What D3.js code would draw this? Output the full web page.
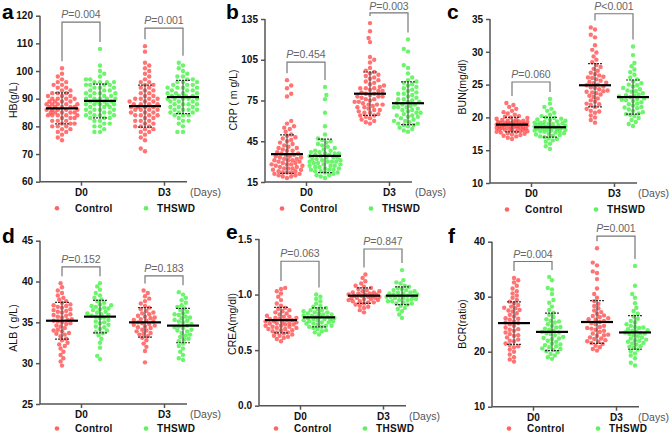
<!DOCTYPE html>
<html>
<head>
<meta charset="utf-8">
<script src="https://cdn.jsdelivr.net/npm/d3@7"></script>
<style>
body { margin: 0; background: #fff; }
text { font-family: "Liberation Sans", Arial, sans-serif; }
</style>
</head>
<body>
<div id="chart"></div>
<script>
var width = 669
var height = 437

var days = ["D0", "D3"]
var groups = ["Control", "THSWD"]

// HB (g/L)
var hbCtrlD0 = [75,76,77,78,78,79,79,80,80,80,81,81,81,82,82,82,83,83,83,84,84,84,84,85,85,85,85,86,86,86,86,86,87,87,87,87,87,88,88,88,88,89,89,89,89,90,90,90,90,91,91,91,92,92,92,93,93,94,94,95,95,96,96,97,98,99,101,85,84,88]
var hbThD0 = [78,78,79,80,80,81,81,82,82,83,83,83,84,84,84,85,85,85,86,86,86,87,87,87,88,88,88,88,89,89,89,89,90,90,90,90,91,91,91,92,92,92,93,93,93,94,94,94,95,95,95,96,96,96,96,97,97,98,99,100,102,108,86,90,92,84,88,95]
var hbCtrlD3 = [71,72,75,76,77,78,78,79,79,80,80,81,81,82,82,83,83,84,84,84,85,85,85,86,86,86,87,87,87,87,88,88,88,89,89,89,90,90,90,91,91,92,92,93,93,94,94,95,95,96,96,97,98,99,100,101,102,103,107,109,84,86,88,90,82,80]
var hbThD3 = [78,78,80,81,82,82,83,84,84,85,85,85,86,86,86,87,87,87,88,88,88,89,89,89,90,90,90,90,91,91,91,91,92,92,92,93,93,93,94,94,94,95,95,95,96,96,96,97,97,98,98,99,100,101,102,103,88,90,92,86,94,84]
var hbMean = [86.5, 89.2, 87.3, 90.6]
var hbSd = [5.6, 6.1, 7.6, 6.0]
var hbTicks = [60, 70, 80, 90, 100, 110, 120]
var hbP = ["=0.004", "=0.001"]
var hbBracket = [117.7, 115.5]

// CRP (mg/L)
var crpCtrlD0 = [18,19,19,20,20,21,21,22,22,23,23,24,24,25,25,26,26,27,27,28,28,29,29,30,30,31,31,32,32,33,33,34,35,35,36,36,37,38,38,39,40,40,41,42,43,44,45,46,47,48,49,50,52,54,55,56,58,60,78,80,84,86,90,22,25,28,31,34]
var crpThD0 = [18,19,20,20,21,22,22,23,23,24,24,25,25,26,26,27,27,28,28,29,29,30,30,30,31,31,32,32,33,33,34,34,35,35,36,36,37,37,38,38,39,40,41,42,43,44,45,46,47,50,56,66,76,79,85,24,27,30,33,36]
var crpCtrlD3 = [58,59,60,61,62,63,64,64,65,66,67,68,68,69,70,70,71,72,72,73,74,74,75,76,76,77,78,78,79,80,80,81,82,82,83,84,84,85,86,87,88,89,90,91,92,93,94,95,96,97,99,103,105,107,118,121,126,132,66,72,78,84]
var crpThD3 = [52,53,54,55,56,57,57,58,59,60,60,61,62,63,63,64,65,66,66,67,68,68,69,70,70,71,72,72,73,74,74,75,76,77,78,79,80,80,81,82,83,84,85,86,87,88,89,90,92,95,99,101,111,113,120,58,64,70,76]
var crpMean = [35.5, 34.2, 80, 73]
var crpSd = [14.2, 12.3, 16, 15.7]
var crpTicks = [15, 45, 75, 105, 135]
var crpP = ["=0.454", "=0.003"]
var crpBracket = [103.3, 139.5]

// BUN (mg/dl)
var bunCtrlD0 = [16.7,16.9,17.1,17.2,17.3,17.4,17.5,17.6,17.7,17.8,17.9,17.9,18.0,18.1,18.1,18.2,18.3,18.3,18.4,18.5,18.5,18.6,18.6,18.7,18.7,18.8,18.8,18.9,18.9,19.0,19.0,19.1,19.1,19.2,19.2,19.3,19.3,19.4,19.5,19.5,19.6,19.7,19.8,19.9,20.0,20.1,20.2,20.4,20.6,20.8,21.0,21.3,21.6,21.9,22.2,18.2,18.6,19.0,19.4,18.4,17.8,18.9]
var bunThD0 = [15.2,15.6,16.0,16.3,16.5,16.7,16.8,17.0,17.1,17.3,17.4,17.5,17.6,17.7,17.8,17.9,18.0,18.0,18.1,18.2,18.3,18.3,18.4,18.5,18.5,18.6,18.6,18.7,18.8,18.8,18.9,19.0,19.0,19.1,19.2,19.3,19.4,19.5,19.6,19.7,19.8,19.9,20.0,20.2,20.4,20.7,21.0,21.3,21.6,22.1,22.8,17.2,18.1,18.6,19.2,17.9]
var bunCtrlD3 = [19.2,19.6,20.0,20.3,20.7,21.0,21.3,21.6,21.9,22.1,22.4,22.6,22.9,23.1,23.3,23.5,23.7,23.9,24.1,24.3,24.5,24.7,24.9,25.0,25.2,25.4,25.6,25.8,26.0,26.2,26.4,26.6,26.8,27.1,27.4,27.7,28.0,28.4,28.8,29.3,29.9,30.3,31.0,32.2,32.6,33.4,33.7,22.0,23.8,24.6,25.3,26.1,24.0,20.9]
var bunThD3 = [18.7,19.0,19.3,19.6,19.9,20.2,20.4,20.6,20.8,21.0,21.2,21.4,21.6,21.8,22.0,22.1,22.3,22.5,22.6,22.8,22.9,23.1,23.2,23.4,23.5,23.7,23.9,24.1,24.3,24.5,24.7,24.9,25.2,25.5,25.8,26.1,26.5,26.9,27.3,27.8,28.3,29.5,30.8,21.5,22.7,23.3,24.0,20.5,25.0]
var bunMean = [18.9, 18.5, 24.9, 23.1]
var bunSd = [1.1, 1.5, 3.3, 2.6]
var bunTicks = [10, 15, 20, 25, 30, 35]
var bunP = ["=0.060", "<0.001"]
var bunBracket = [25.4, 35.8]

// ALB (g/L)
var albCtrlD0 = [29.7,30.2,30.6,31.0,31.4,31.8,32.1,32.5,32.8,33.0,33.3,33.5,33.7,33.9,34.1,34.3,34.5,34.6,34.8,35.0,35.1,35.3,35.4,35.6,35.7,35.9,36.0,36.2,36.3,36.5,36.6,36.8,36.9,37.0,37.2,37.4,37.6,37.8,38.0,38.3,38.6,38.9,39.3,39.8,34.0,35.2,36.4,33.6,35.8,37.1,32.3,34.9]
var albThD0 = [30.5,30.9,31.9,32.5,33.0,33.4,33.7,34.0,34.2,34.5,34.7,34.9,35.1,35.3,35.5,35.6,35.8,35.9,36.1,36.2,36.3,36.5,36.6,36.7,36.9,37.0,37.2,37.4,37.6,37.8,38.0,38.3,38.6,39.0,39.4,39.8,35.0,36.0,36.8,34.4,35.7,37.1,33.8]
var albCtrlD3 = [30.1,31.5,32.0,32.4,32.8,33.1,33.3,33.5,33.7,33.9,34.1,34.3,34.4,34.6,34.7,34.9,35.0,35.1,35.3,35.4,35.5,35.7,35.8,36.0,36.2,36.4,36.6,36.8,37.0,37.3,37.6,37.9,38.2,38.6,38.9,34.5,35.2,34.0,35.6,36.1,33.6,34.8]
var albThD3 = [30.4,30.6,31.0,31.4,31.8,32.1,32.4,32.7,33.0,33.2,33.5,33.7,33.9,34.1,34.3,34.5,34.6,34.8,35.0,35.1,35.3,35.5,35.7,35.9,36.1,36.3,36.5,36.7,36.9,37.1,37.4,37.7,38.0,38.4,38.7,34.0,35.2,33.4,36.0,32.9,34.4,35.6]
var albMean = [35.2, 35.7, 35.0, 34.6]
var albSd = [2.25, 2.0, 1.8, 2.1]
var albTicks = [25, 30, 35, 40, 45]
var albP = ["=0.152", "=0.183"]
var albBracket = [41.8, 40.7]

// CREA (mg/dl)
var creaCtrlD0 = [0.58,0.60,0.61,0.62,0.63,0.64,0.65,0.66,0.67,0.68,0.68,0.69,0.70,0.70,0.71,0.72,0.72,0.73,0.73,0.74,0.74,0.75,0.75,0.76,0.76,0.77,0.77,0.78,0.78,0.79,0.80,0.80,0.81,0.82,0.83,0.84,0.85,0.86,0.87,0.88,0.90,0.92,0.95,0.98,1.01,1.03,1.05,1.06,0.66,0.71,0.74,0.79,0.69,0.63]
var creaThD0 = [0.64,0.66,0.67,0.68,0.69,0.70,0.71,0.72,0.72,0.73,0.74,0.74,0.75,0.76,0.76,0.77,0.77,0.78,0.78,0.79,0.79,0.80,0.80,0.81,0.81,0.82,0.82,0.83,0.84,0.84,0.85,0.86,0.87,0.88,0.89,0.90,0.92,0.94,0.96,0.98,1.00,0.75,0.78,0.80,0.83,0.71,0.86]
var creaCtrlD3 = [0.84,0.86,0.88,0.89,0.90,0.91,0.92,0.93,0.94,0.94,0.95,0.96,0.96,0.97,0.97,0.98,0.98,0.99,0.99,1.00,1.00,1.01,1.01,1.02,1.02,1.03,1.04,1.05,1.06,1.07,1.08,1.10,1.12,1.15,1.18,0.95,0.99,1.00,0.97,1.03,0.93]
var creaThD3 = [0.79,0.82,0.85,0.87,0.88,0.90,0.91,0.92,0.93,0.94,0.95,0.95,0.96,0.97,0.97,0.98,0.98,0.99,0.99,1.00,1.00,1.01,1.02,1.02,1.03,1.04,1.05,1.06,1.07,1.08,1.10,1.11,1.13,1.22,0.96,0.99,1.01,0.94,1.04,0.92]
var creaMean = [0.77, 0.795, 0.99, 0.99]
var creaSd = [0.115, 0.085, 0.07, 0.08]
var creaTicks = [0.0, 0.5, 1.0, 1.5]
var creaP = ["=0.063", "=0.847"]
var creaBracket = [1.30, 1.41]

// BCR (ratio)
var bcrCtrlD0 = [18.2,18.6,19.0,19.5,20.0,20.4,20.8,21.2,21.5,21.9,22.2,22.6,22.9,23.2,23.5,23.8,24.1,24.4,24.7,25.0,25.2,25.5,25.8,26.1,26.4,26.7,27.0,27.3,27.6,27.9,28.2,28.5,28.8,29.1,29.4,29.8,30.2,30.6,31.0,31.5,32.0,32.6,33.0,33.4,22.0,24.0,25.3,26.0,27.5,23.0,21.0,28.0]
var bcrThD0 = [18.7,19.0,19.3,19.6,19.9,20.1,20.3,20.6,20.8,21.0,21.3,21.5,21.8,22.0,22.3,22.5,22.7,23.0,23.2,23.4,23.6,23.8,24.0,24.2,24.5,24.7,25.0,25.3,25.6,25.9,26.3,26.7,27.1,27.6,28.2,28.9,29.4,30.5,31.3,31.6,33.0,33.6,21.2,22.4,23.5,24.4,20.5,25.5]
var bcrCtrlD3 = [20.2,20.5,20.8,21.1,21.4,21.6,21.9,22.1,22.4,22.6,22.9,23.1,23.3,23.6,23.8,24.0,24.3,24.5,24.7,25.0,25.2,25.4,25.6,25.9,26.1,26.3,26.6,26.9,27.2,27.5,27.9,28.3,28.7,29.2,29.8,30.5,31.5,33.2,34.3,34.6,35.7,36.2,38.8,21.8,23.0,24.2,25.8,26.5,22.3]
var bcrThD3 = [17.5,18.0,18.8,19.3,19.7,20.1,20.4,20.7,21.0,21.3,21.5,21.8,22.0,22.2,22.4,22.6,22.8,23.0,23.2,23.4,23.5,23.7,23.9,24.1,24.3,24.5,24.7,25.0,25.3,25.6,26.0,26.4,26.9,27.4,28.0,28.8,29.8,30.5,32.0,35.6,22.1,23.3,23.8,24.4,21.6,20.9]
var bcrMean = [25.2, 23.6, 25.4, 23.5]
var bcrSd = [3.85, 3.4, 3.9, 3.05]
var bcrTicks = [10, 20, 30, 40]
var bcrP = ["=0.004", "=0.001"]
var bcrBracket = [36.4, 41]

var colors = ["#ff3d3d", "#33f033"]

// Panel setup (layout only)

var panels = [
    {letter: "a", lx: 2, ly: 19, title: "HB(g/L)", tx: 13, ty: 100, x0: 40, top: 15.7, bottom: 181.7,
     vals: [hbCtrlD0, hbThD0, hbCtrlD3, hbThD3], mean: hbMean, sd: hbSd, ticks: hbTicks, p: hbP, bracket: hbBracket, fmt: d3.format("d")},
    {letter: "b", lx: 226, ly: 19, title: "CRP ( m g/L)", tx: 233, ty: 100, x0: 265, top: 19, bottom: 182,
     vals: [crpCtrlD0, crpThD0, crpCtrlD3, crpThD3], mean: crpMean, sd: crpSd, ticks: crpTicks, p: crpP, bracket: crpBracket, fmt: d3.format("d")},
    {letter: "c", lx: 447, ly: 19, title: "BUN(mg/dl)", tx: 462, ty: 87, x0: 490, top: 19, bottom: 183,
     vals: [bunCtrlD0, bunThD0, bunCtrlD3, bunThD3], mean: bunMean, sd: bunSd, ticks: bunTicks, p: bunP, bracket: bunBracket, fmt: d3.format("d")},
    {letter: "d", lx: 2, ly: 243, title: "ALB ( g/L)", tx: 13, ty: 328, x0: 40, top: 240.7, bottom: 404,
     vals: [albCtrlD0, albThD0, albCtrlD3, albThD3], mean: albMean, sd: albSd, ticks: albTicks, p: albP, bracket: albBracket, fmt: d3.format("d")},
    {letter: "e", lx: 226, ly: 239, title: "CREA(mg/dl)", tx: 232, ty: 324, x0: 259, top: 239, bottom: 405.7,
     vals: [creaCtrlD0, creaThD0, creaCtrlD3, creaThD3], mean: creaMean, sd: creaSd, ticks: creaTicks, p: creaP, bracket: creaBracket, fmt: d3.format(".1f")},
    {letter: "f", lx: 448, ly: 243, title: "BCR(ratio)", tx: 462, ty: 324, x0: 492, top: 241.7, bottom: 406.7,
     vals: [bcrCtrlD0, bcrThD0, bcrCtrlD3, bcrThD3], mean: bcrMean, sd: bcrSd, ticks: bcrTicks, p: bcrP, bracket: bcrBracket, fmt: d3.format("d")}
]

var svg = d3.select("#chart")
    .append("svg")
    .attr("width", width)
    .attr("height", height)
    .style("background-color", "white")

// simple beeswarm: place each dot at the nearest free horizontal offset
function swarm(values, y_scale, cx) {
    var minDist = 4.2, step = 1.4, maxOff = 16
    var pts = values.map(function(v) { return {v: v, y: y_scale(v)} })
    pts.sort(function(a, b) { return b.y - a.y })
    var placed = []
    pts.forEach(function(p, i) {
        var best = 0, bestGap = -1
        for (var k = 0; k * step <= maxOff * 2; k++) {
            var sign = (k + i) % 2 ? 1 : -1
            var off = sign * Math.ceil(k / 2) * step
            if (Math.abs(off) > maxOff) continue
            var gap = Infinity
            placed.forEach(function(q) {
                var dy = q.y - p.y
                if (Math.abs(dy) < minDist) {
                    var dd = Math.sqrt(dy * dy + (q.off - off) * (q.off - off))
                    if (dd < gap) gap = dd
                }
            })
            if (gap >= minDist) { best = off; bestGap = gap; break }
            if (gap > bestGap) { bestGap = gap; best = off }
        }
        p.off = best
        p.x = cx + best
        placed.push(p)
    })
    return pts
}

panels.forEach(function(pn) {
    var g = svg.append("g")

    var y_scale = d3.scaleLinear()
        .domain(d3.extent(pn.ticks))
        .range([pn.bottom, pn.top])

    var x_scale = d3.scalePoint()
        .domain(days)
        .range([pn.x0 + 41, pn.x0 + 124])

    var xEnd = pn.x0 + 147

    // points
    pn.vals.forEach(function(vals, gi) {
        var day = days[Math.floor(gi / 2)]
        var cx = x_scale(day) + (gi % 2 ? 19 : -19)
        var pts = swarm(vals, y_scale, cx)
        g.append("g")
            .selectAll("circle")
            .data(pts)
            .enter()
            .append("circle")
            .attr("cx", function(d) { return d.x })
            .attr("cy", function(d) { return d.y })
            .attr("r", 2.2)
            .style("fill", colors[gi % 2])
            .style("fill-opacity", 0.72)

        // mean and SD
        var m = pn.mean[gi], s = pn.sd[gi]
        g.append("line")
            .attr("x1", cx).attr("x2", cx)
            .attr("y1", y_scale(m - s)).attr("y2", y_scale(m + s))
            .style("stroke", "#444").style("stroke-width", 1)
        ;[m - s, m + s].forEach(function(v) {
            g.append("line")
                .attr("x1", cx - 7).attr("x2", cx + 7)
                .attr("y1", y_scale(v)).attr("y2", y_scale(v))
                .style("stroke", "#333").style("stroke-width", 1.2)
                .style("stroke-dasharray", "2,1")
        })
        g.append("line")
            .attr("x1", cx - 16).attr("x2", cx + 16)
            .attr("y1", y_scale(m)).attr("y2", y_scale(m))
            .style("stroke", "#000").style("stroke-width", 2.2)

        vals.top = d3.max(vals)
        vals.cx = cx
    })

    // brackets with P values
    days.forEach(function(day, di) {
        var a = pn.vals[di * 2], b = pn.vals[di * 2 + 1]
        var by = y_scale(pn.bracket[di])
        g.append("path")
            .attr("d", "M" + a.cx + "," + (y_scale(a.top) - 7) + "V" + by + "H" + b.cx + "V" + (y_scale(b.top) - 7))
            .style("fill", "none")
            .style("stroke", "#777")
            .style("stroke-width", 1.2)
        var t = g.append("text")
            .attr("x", (a.cx + b.cx) / 2)
            .attr("y", Math.max(by - 4, 10))
            .attr("text-anchor", "middle")
            .style("font-size", "10.5px")
            .style("fill", "#666")
        t.append("tspan").style("font-style", "italic").text("P")
        t.append("tspan").text(pn.p[di])
    })

    // axes
    var yAxis = d3.axisLeft(y_scale).tickValues(pn.ticks).tickFormat(pn.fmt).tickSize(4).tickPadding(3)
    var ya = g.append("g")
        .attr("transform", "translate(" + pn.x0 + ",0)")
        .call(yAxis)
    ya.select(".domain").attr("d", "M0," + pn.bottom + "V" + pn.top)

    var xAxis = d3.axisBottom(x_scale).tickSize(4).tickPadding(3)
    var xa = g.append("g")
        .attr("transform", "translate(0," + pn.bottom + ")")
        .call(xAxis)
    xa.select(".domain").attr("d", "M" + pn.x0 + ",0H" + xEnd)

    ;[ya, xa].forEach(function(ax) {
        ax.selectAll(".domain").style("stroke", "#555").style("stroke-width", 1.5)
        ax.selectAll(".tick line").style("stroke", "#555").style("stroke-width", 1.5)
        ax.selectAll(".tick text")
            .style("font-family", "'Liberation Sans', Arial, sans-serif")
            .style("font-size", "10px")
            .style("font-weight", "bold")
            .style("fill", "#111")
    })

    g.append("text")
        .attr("x", Math.min(xEnd + 3, width - 31))
        .attr("y", pn.bottom + 14)
        .style("font-size", "10.5px")
        .style("fill", "#555")
        .text("(Days)")

    // axis title
    g.append("text")
        .attr("transform", "translate(" + pn.tx + "," + pn.ty + ") rotate(-90)")
        .attr("text-anchor", "middle")
        .attr("dy", "0.35em")
        .style("font-size", "10.5px")
        .style("fill", "#111")
        .text(pn.title)

    // panel letter
    g.append("text")
        .attr("x", pn.lx)
        .attr("y", pn.ly)
        .style("font-size", "21px")
        .style("font-weight", "bold")
        .style("fill", "#000")
        .text(pn.letter)

    // legend
    groups.forEach(function(name, gi) {
        var mx = pn.x0 + (gi ? 106 : 17)
        var ly = Math.min(pn.bottom + 30, height - 5)
        g.append("circle")
            .attr("cx", mx).attr("cy", ly - 3.5)
            .attr("r", 2.3)
            .style("fill", colors[gi])
            .style("fill-opacity", 0.8)
        g.append("text")
            .attr("x", mx + (gi ? 11 : 18))
            .attr("y", ly)
            .style("font-size", "10px")
            .style("font-weight", "bold")
            .style("letter-spacing", "0.3px")
            .style("fill", "#111")
            .text(name)
    })
})
</script>
</body>
</html>
